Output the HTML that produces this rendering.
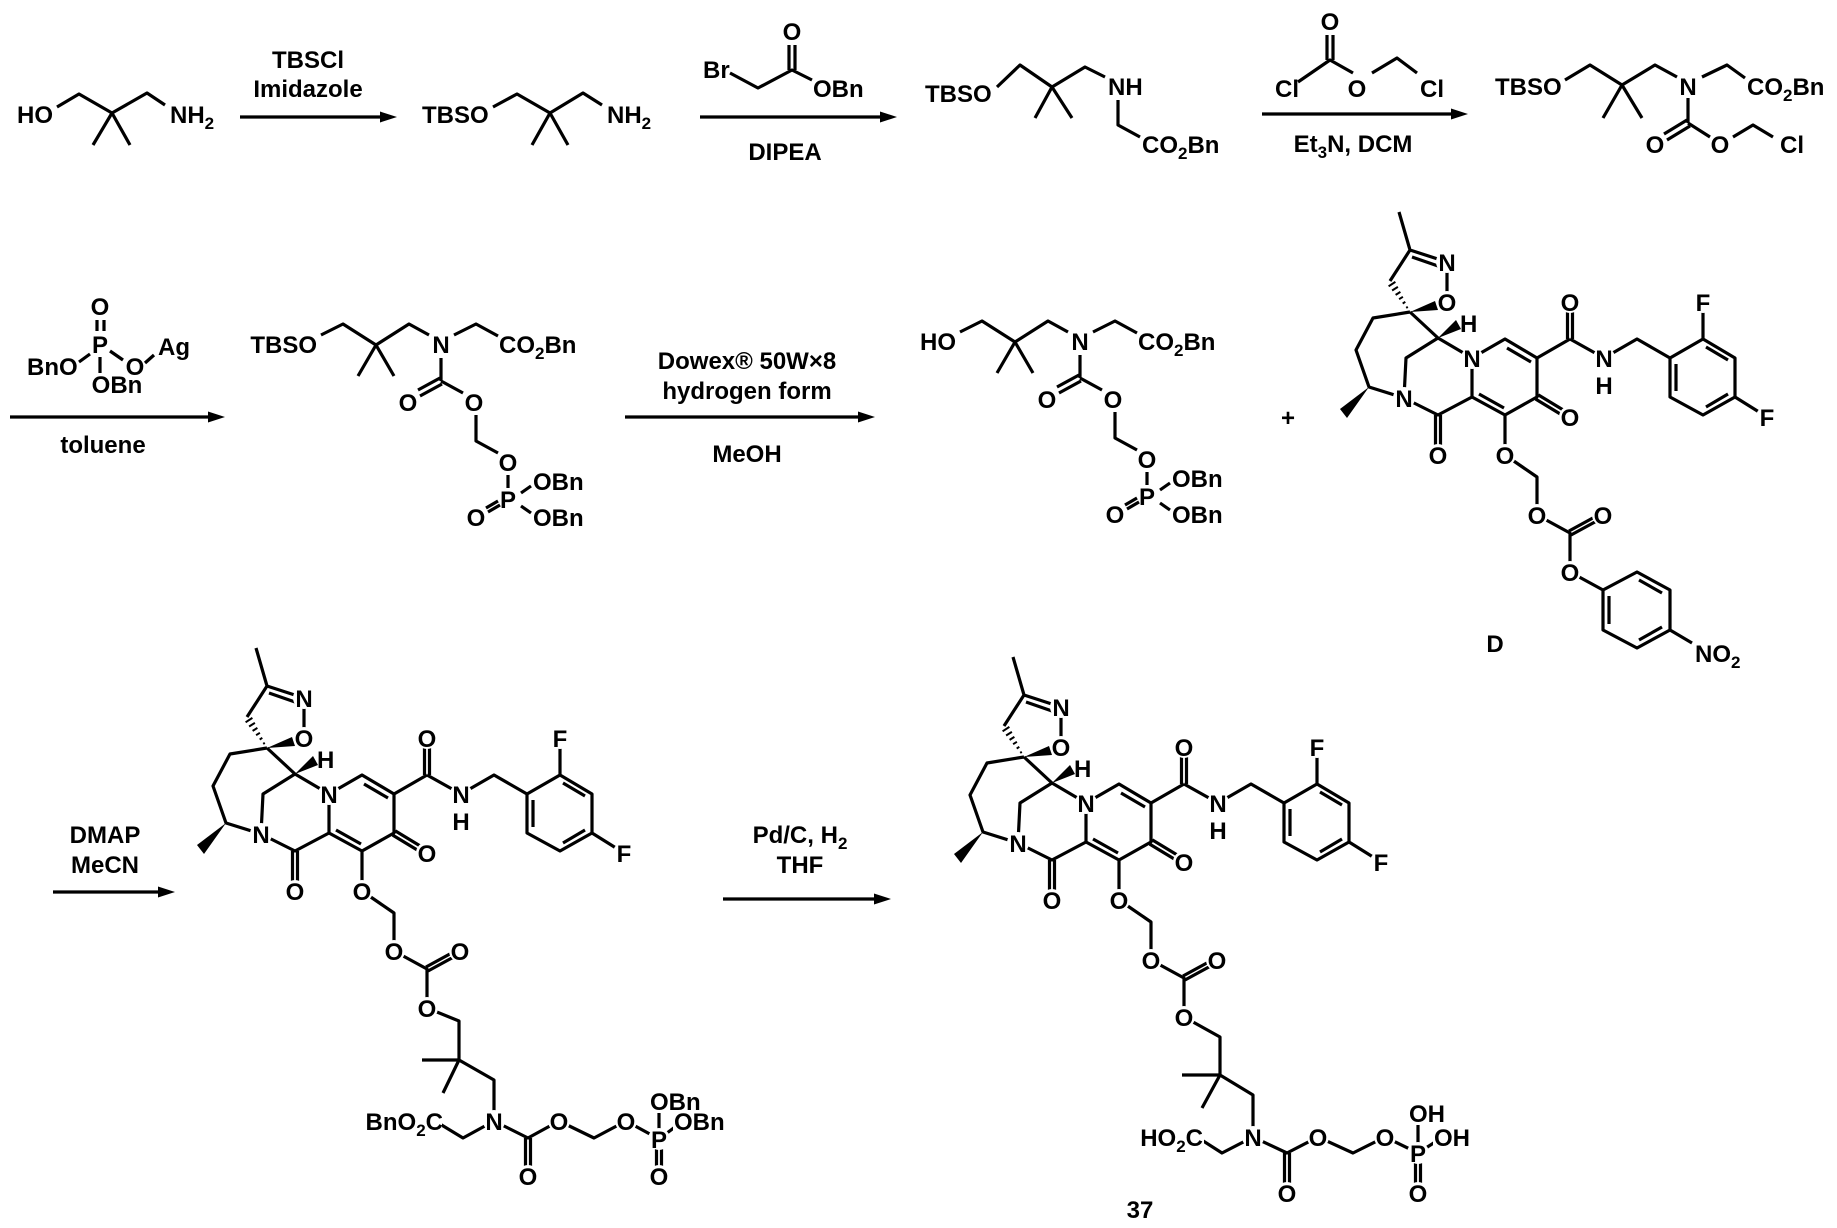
<!DOCTYPE html>
<html><head><meta charset="utf-8"><style>
html,body{margin:0;padding:0;background:#fff}
svg{display:block}
text{font-family:"Liberation Sans",Arial,sans-serif;font-weight:bold;font-size:24px;fill:#000}
.c{text-anchor:middle}
.w{fill:#fff;stroke:none}
.b{fill:none;stroke:#000;stroke-width:3.2;stroke-linejoin:round;stroke-linecap:butt}
.hs{stroke:#000;stroke-width:2}
</style></head><body>
<svg width="1837" height="1228" viewBox="0 0 1837 1228" xmlns="http://www.w3.org/2000/svg">

<!-- ROW 1 -->
<text x="17" y="123">HO</text>
<path class="b" d="M57 107 L79 94 L112 113 L147 93 L165 105 M112 113 L93 145 M112 113 L130 145"/>
<text x="170" y="123">NH<tspan font-size="17" dy="6">2</tspan></text>
<path class="b" d="M240 117 L385 117"/><polygon points="397,117 380,111.5 380,122.5"/>
<text class="c" x="308" y="68">TBSCl</text>
<text class="c" x="308" y="97">Imidazole</text>

<text x="422" y="123">TBSO</text>
<path class="b" d="M493 107 L517 94 L550 113 L583 93 L602 105 M550 113 L532 145 M550 113 L568 145"/>
<text x="607" y="123">NH<tspan font-size="17" dy="6">2</tspan></text>

<path class="b" d="M700 117 L885 117"/><polygon points="897,117 880,111.5 880,122.5"/>
<text x="703" y="78">Br</text>
<path class="b" d="M730 73 L758 88 L792 70 L812 80 M789 70 L789 45 M795 70 L795 45"/>
<text class="c" x="792" y="40">O</text>
<text x="813" y="97">OBn</text>
<text class="c" x="785" y="160">DIPEA</text>

<text x="925" y="102">TBSO</text>
<path class="b" d="M997 87 L1020 65 L1052 87 L1085 67 L1105 77 M1052 87 L1035 118 M1052 87 L1072 118 M1118 100 L1118 125 L1140 137"/>
<text x="1108" y="95">NH</text>
<text x="1142" y="153">CO<tspan font-size="17" dy="6">2</tspan><tspan dy="-6">Bn</tspan></text>

<path class="b" d="M1262 114 L1456 114"/><polygon points="1468,114 1451,108.5 1451,119.5"/>
<text x="1275" y="97">Cl</text>
<path class="b" d="M1298 82 L1330 60 L1353 73 M1327 60 L1327 35 M1333 60 L1333 35 M1372 73 L1397 58 L1417 73"/>
<text class="c" x="1330" y="30">O</text>
<text class="c" x="1357" y="97">O</text>
<text x="1420" y="97">Cl</text>
<text class="c" x="1353" y="152">Et<tspan font-size="17" dy="6">3</tspan><tspan dy="-6">N, DCM</tspan></text>

<text x="1495" y="95">TBSO</text>
<path class="b" d="M1565 80 L1590 65 L1622 85 L1655 65 L1677 77 M1622 85 L1603 118 M1622 85 L1642 118 M1702 77 L1727 65 L1745 78 M1688 98 L1688 123 M1687 120 L1664 134 M1690 126 L1667 140 M1688 123 L1710 137 M1733 137 L1753 125 L1773 137"/>
<text class="c" x="1688" y="95">N</text>
<text x="1747" y="95">CO<tspan font-size="17" dy="6">2</tspan><tspan dy="-6">Bn</tspan></text>
<text class="c" x="1655" y="153">O</text>
<text class="c" x="1720" y="153">O</text>
<text x="1780" y="153">Cl</text>

<!-- ROW 2 -->
<path class="b" d="M10 417 L213 417"/><polygon points="225,417 208,411.5 208,422.5"/>
<text class="c" x="100" y="315">O</text>
<path class="b" d="M97 320 L97 331 M104 320 L104 331 M79 362 L90 354 M110 351 L123 360 M145 363 L154 355 M100 357 L100 373"/>
<text class="c" x="100" y="353">P</text>
<text x="27" y="375">BnO</text>
<text class="c" x="135" y="375">O</text>
<text x="158" y="355">Ag</text>
<text class="c" x="117" y="393">OBn</text>
<text class="c" x="103" y="453">toluene</text>

<g transform="translate(-639,3)">
<text x="956" y="350" text-anchor="end">TBSO</text>
<path class="b" d="M960 332 L982 321 L1015 342 L1048 321 L1068 332 M1015 342 L997 373 M1015 342 L1033 373 M1093 332 L1115 321 L1137 333 M1080 355 L1080 378 M1079 375 L1057 387 M1081 381 L1059 393 M1080 378 L1102 390 M1115 412 L1115 438 L1137 450 M1147 472 L1147 485 M1160 490 L1170 483 M1160 503 L1170 510 M1125 505 L1137 498 M1127 509 L1139 502"/>
<text class="c" x="1080" y="350">N</text>
<text x="1138" y="350">CO<tspan font-size="17" dy="6">2</tspan><tspan dy="-6">Bn</tspan></text>
<text class="c" x="1047" y="408">O</text><text class="c" x="1113" y="408">O</text>
<text class="c" x="1147" y="468">O</text><text class="c" x="1147" y="505">P</text>
<text x="1172" y="487">OBn</text><text x="1172" y="523">OBn</text>
<text class="c" x="1115" y="523">O</text>
</g>

<path class="b" d="M625 417 L863 417"/><polygon points="875,417 858,411.5 858,422.5"/>
<text class="c" x="747" y="369">Dowex® 50W×8</text>
<text class="c" x="747" y="399">hydrogen form</text>
<text class="c" x="747" y="462">MeOH</text>

<text x="920" y="350">HO</text>
<path class="b" d="M960 332 L982 321 L1015 342 L1048 321 L1068 332 M1015 342 L997 373 M1015 342 L1033 373 M1093 332 L1115 321 L1137 333 M1080 355 L1080 378 M1079 375 L1057 387 M1081 381 L1059 393 M1080 378 L1102 390 M1115 412 L1115 438 L1137 450 M1147 472 L1147 485 M1160 490 L1170 483 M1160 503 L1170 510 M1125 505 L1137 498 M1127 509 L1139 502"/>
<text class="c" x="1080" y="350">N</text>
<text x="1138" y="350">CO<tspan font-size="17" dy="6">2</tspan><tspan dy="-6">Bn</tspan></text>
<text class="c" x="1047" y="408">O</text><text class="c" x="1113" y="408">O</text>
<text class="c" x="1147" y="468">O</text><text class="c" x="1147" y="505">P</text>
<text x="1172" y="487">OBn</text><text x="1172" y="523">OBn</text>
<text class="c" x="1115" y="523">O</text>

<text class="c" x="1288" y="426" font-size="26">+</text>

<!-- D -->
<g transform="translate(1410,312)">
<path class="b" d="M-11 -100 L0 -62 L37 -50 M2 -55 L28 -46 M37 -50 L37 -10 M0 -62 L-20 -31 M0 0 L-37 6 L-54 38 L-41 75 L-6 86 M-6 86 L-4 46 L28 26 L0 0 M28 26 L62 46 L95 27 L127 46 L127 85 L95 103 L62 85 L62 46 M97 36 L121 50 M94 96 L69 82 M125.7 87.1 L158.7 107.1 M128.3 82.9 L161.3 102.9 M62 85 L28 103 L-6 86 M25.5 103 L25.5 143 M30.5 103 L30.5 143 M127 46 L160 27 M157.5 27 L157.5 -10 M162.5 27 L162.5 -10 M160 27 L194 46 L227 27 L260 46 M260 46 L293 27 L325 46 L325 85 L293 103 L260 85 Z M266 52 L266 79 M296 35 L318 48 M318 82 L296 95 M293 27 L293 -10 M325 85 L357 105 M95 103 L95 143 L127 165 L127 203 L160 221 L160 260 M161 223 L194 205 M159 219 L192 201"/>
<path class="b" d="M160 260 L193 278 M193 278 L227 260 L260 278 L260 318 L227 336 L193 318 Z M199 284 L199 312 M229 268 L252 281 M252 315 L229 328 M260 318 L282 331"/>
<polygon points="0,0 25,-11 28,-2"/>
<polygon points="28,26 46,8 51,17"/>
<polygon points="-41,75 -63,106 -70,97"/>
<path class="hs" d="M-2.2 -5.1 L-3.8 -4.1 M-4.7 -10.2 L-7.3 -8.4 M-7.1 -15.2 L-10.9 -12.8 M-9.6 -20.1 L-14.4 -17.1 M-12.1 -25.1 L-17.9 -21.5 M-14.6 -30.1 L-21.4 -25.7"/>
<g class="w">
<circle cx="37" cy="-50" r="11"/><circle cx="37" cy="-10" r="11"/><circle cx="62" cy="46" r="11"/><circle cx="-6" cy="86" r="11"/><circle cx="160" cy="105" r="11"/><circle cx="28" cy="143" r="11"/><circle cx="160" cy="-10" r="11"/><circle cx="194" cy="46" r="11"/><circle cx="194" cy="73" r="11"/><circle cx="293" cy="-10" r="11"/><circle cx="357" cy="105" r="11"/><circle cx="95" cy="143" r="11"/><circle cx="127" cy="203" r="11"/><circle cx="193" cy="203" r="11"/><circle cx="160" cy="260" r="11"/><rect x="283" y="330" width="38" height="26"/>
</g>
<text class="c" x="37" y="-41">N</text><text class="c" x="37" y="-1">O</text>
<text x="50" y="20">H</text>
<text class="c" x="62" y="55">N</text><text class="c" x="-6" y="95">N</text>
<text class="c" x="160" y="114">O</text><text class="c" x="28" y="152">O</text>
<text class="c" x="160" y="-1">O</text><text class="c" x="194" y="55">N</text>
<text class="c" x="194" y="82">H</text>
<text class="c" x="293" y="-1">F</text><text class="c" x="357" y="114">F</text>
<text class="c" x="95" y="152">O</text><text class="c" x="127" y="212">O</text>
<text class="c" x="193" y="212">O</text><text class="c" x="160" y="269">O</text>
<text x="285" y="350">NO<tspan font-size="17" dy="6">2</tspan></text>
</g>
<text class="c" x="1495" y="652" font-size="26">D</text>

<!-- ROW 3 -->
<path class="b" d="M53 892 L163 892"/><polygon points="175,892 158,886.5 158,897.5"/>
<text class="c" x="105" y="843">DMAP</text>
<text class="c" x="105" y="873">MeCN</text>

<g transform="translate(267,748)">
<path class="b" d="M-11 -100 L0 -62 L37 -50 M2 -55 L28 -46 M37 -50 L37 -10 M0 -62 L-20 -31 M0 0 L-37 6 L-54 38 L-41 75 L-6 86 M-6 86 L-4 46 L28 26 L0 0 M28 26 L62 46 L95 27 L127 46 L127 85 L95 103 L62 85 L62 46 M97 36 L121 50 M94 96 L69 82 M125.7 87.1 L158.7 107.1 M128.3 82.9 L161.3 102.9 M62 85 L28 103 L-6 86 M25.5 103 L25.5 143 M30.5 103 L30.5 143 M127 46 L160 27 M157.5 27 L157.5 -10 M162.5 27 L162.5 -10 M160 27 L194 46 L227 27 L260 46 M260 46 L293 27 L325 46 L325 85 L293 103 L260 85 Z M266 52 L266 79 M296 35 L318 48 M318 82 L296 95 M293 27 L293 -10 M325 85 L357 105 M95 103 L95 143 L127 165 L127 203 L160 221 L160 260 M161 223 L194 205 M159 219 L192 201"/>
<polygon points="0,0 25,-11 28,-2"/>
<polygon points="28,26 46,8 51,17"/>
<polygon points="-41,75 -63,106 -70,97"/>
<path class="hs" d="M-2.2 -5.1 L-3.8 -4.1 M-4.7 -10.2 L-7.3 -8.4 M-7.1 -15.2 L-10.9 -12.8 M-9.6 -20.1 L-14.4 -17.1 M-12.1 -25.1 L-17.9 -21.5 M-14.6 -30.1 L-21.4 -25.7"/>
<g class="w">
<circle cx="37" cy="-50" r="11"/><circle cx="37" cy="-10" r="11"/><circle cx="62" cy="46" r="11"/><circle cx="-6" cy="86" r="11"/><circle cx="160" cy="105" r="11"/><circle cx="28" cy="143" r="11"/><circle cx="160" cy="-10" r="11"/><circle cx="194" cy="46" r="11"/><circle cx="194" cy="73" r="11"/><circle cx="293" cy="-10" r="11"/><circle cx="357" cy="105" r="11"/><circle cx="95" cy="143" r="11"/><circle cx="127" cy="203" r="11"/><circle cx="193" cy="203" r="11"/>
</g>
<text class="c" x="37" y="-41">N</text><text class="c" x="37" y="-1">O</text>
<text x="50" y="20">H</text>
<text class="c" x="62" y="55">N</text><text class="c" x="-6" y="95">N</text>
<text class="c" x="160" y="114">O</text><text class="c" x="28" y="152">O</text>
<text class="c" x="160" y="-1">O</text><text class="c" x="194" y="55">N</text>
<text class="c" x="194" y="82">H</text>
<text class="c" x="293" y="-1">F</text><text class="c" x="357" y="114">F</text>
<text class="c" x="95" y="152">O</text><text class="c" x="127" y="212">O</text>
<text class="c" x="193" y="212">O</text>
</g>
<path class="b" d="M427 1008 L459 1021 L459 1060 L494 1080 L494 1121 M459 1060 L422 1060 M459 1060 L443 1093 M494 1121 L463 1138 L435 1121 M494 1121 L528 1138 L559 1121 L594 1138 L626 1121 L659 1139 L683 1121 M525.5 1138 L525.5 1176 M530.5 1138 L530.5 1176 M659 1139 L659 1101 M656.5 1139 L656.5 1176 M661.5 1139 L661.5 1176"/>
<g class="w">
<circle cx="427" cy="1008" r="11"/><circle cx="494" cy="1121" r="11"/><rect x="366" y="1108" width="76" height="30"/><circle cx="528" cy="1176" r="11"/><circle cx="559" cy="1121" r="11"/><circle cx="626" cy="1121" r="11"/><circle cx="659" cy="1139" r="11"/><rect x="649" y="1089" width="56" height="24"/><rect x="673" y="1109" width="58" height="24"/><circle cx="659" cy="1176" r="11"/>
</g>
<text class="c" x="427" y="1017">O</text>
<text class="c" x="494" y="1130">N</text>
<text x="443" y="1130" text-anchor="end">BnO<tspan font-size="17" dy="6">2</tspan><tspan dy="-6">C</tspan></text>
<text class="c" x="528" y="1185">O</text>
<text class="c" x="559" y="1130">O</text>
<text class="c" x="626" y="1130">O</text>
<text class="c" x="659" y="1148">P</text>
<text x="650" y="1110">OBn</text>
<text x="674" y="1130">OBn</text>
<text class="c" x="659" y="1185">O</text>

<path class="b" d="M723 899 L879 899"/><polygon points="891,899 874,893.5 874,904.5"/>
<text class="c" x="800" y="843">Pd/C, H<tspan font-size="17" dy="6">2</tspan></text>
<text class="c" x="800" y="873">THF</text>

<g transform="translate(1024,757)">
<path class="b" d="M-11 -100 L0 -62 L37 -50 M2 -55 L28 -46 M37 -50 L37 -10 M0 -62 L-20 -31 M0 0 L-37 6 L-54 38 L-41 75 L-6 86 M-6 86 L-4 46 L28 26 L0 0 M28 26 L62 46 L95 27 L127 46 L127 85 L95 103 L62 85 L62 46 M97 36 L121 50 M94 96 L69 82 M125.7 87.1 L158.7 107.1 M128.3 82.9 L161.3 102.9 M62 85 L28 103 L-6 86 M25.5 103 L25.5 143 M30.5 103 L30.5 143 M127 46 L160 27 M157.5 27 L157.5 -10 M162.5 27 L162.5 -10 M160 27 L194 46 L227 27 L260 46 M260 46 L293 27 L325 46 L325 85 L293 103 L260 85 Z M266 52 L266 79 M296 35 L318 48 M318 82 L296 95 M293 27 L293 -10 M325 85 L357 105 M95 103 L95 143 L127 165 L127 203 L160 221 L160 260 M161 223 L194 205 M159 219 L192 201"/>
<polygon points="0,0 25,-11 28,-2"/>
<polygon points="28,26 46,8 51,17"/>
<polygon points="-41,75 -63,106 -70,97"/>
<path class="hs" d="M-2.2 -5.1 L-3.8 -4.1 M-4.7 -10.2 L-7.3 -8.4 M-7.1 -15.2 L-10.9 -12.8 M-9.6 -20.1 L-14.4 -17.1 M-12.1 -25.1 L-17.9 -21.5 M-14.6 -30.1 L-21.4 -25.7"/>
<g class="w">
<circle cx="37" cy="-50" r="11"/><circle cx="37" cy="-10" r="11"/><circle cx="62" cy="46" r="11"/><circle cx="-6" cy="86" r="11"/><circle cx="160" cy="105" r="11"/><circle cx="28" cy="143" r="11"/><circle cx="160" cy="-10" r="11"/><circle cx="194" cy="46" r="11"/><circle cx="194" cy="73" r="11"/><circle cx="293" cy="-10" r="11"/><circle cx="357" cy="105" r="11"/><circle cx="95" cy="143" r="11"/><circle cx="127" cy="203" r="11"/><circle cx="193" cy="203" r="11"/>
</g>
<text class="c" x="37" y="-41">N</text><text class="c" x="37" y="-1">O</text>
<text x="50" y="20">H</text>
<text class="c" x="62" y="55">N</text><text class="c" x="-6" y="95">N</text>
<text class="c" x="160" y="114">O</text><text class="c" x="28" y="152">O</text>
<text class="c" x="160" y="-1">O</text><text class="c" x="194" y="55">N</text>
<text class="c" x="194" y="82">H</text>
<text class="c" x="293" y="-1">F</text><text class="c" x="357" y="114">F</text>
<text class="c" x="95" y="152">O</text><text class="c" x="127" y="212">O</text>
<text class="c" x="193" y="212">O</text>
</g>
<path class="b" d="M1184 1017 L1220 1037 L1220 1075 L1253 1095 L1253 1137 M1220 1075 L1182 1075 M1220 1075 L1202 1108 M1253 1137 L1222 1153 L1197 1137 M1253 1137 L1287 1153 L1318 1137 L1353 1153 L1385 1137 L1418 1153 L1443 1137 M1284.5 1153 L1284.5 1193 M1289.5 1153 L1289.5 1193 M1418 1153 L1418 1113 M1415.5 1153 L1415.5 1193 M1420.5 1153 L1420.5 1193"/>
<g class="w">
<circle cx="1184" cy="1017" r="11"/><circle cx="1253" cy="1137" r="11"/><rect x="1130" y="1124" width="74" height="30"/><circle cx="1287" cy="1193" r="11"/><circle cx="1318" cy="1137" r="11"/><circle cx="1385" cy="1137" r="11"/><circle cx="1418" cy="1153" r="11"/><rect x="1408" y="1101" width="38" height="24"/><rect x="1433" y="1125" width="38" height="24"/><circle cx="1418" cy="1193" r="11"/>
</g>
<text class="c" x="1184" y="1026">O</text>
<text class="c" x="1253" y="1146">N</text>
<text x="1203" y="1146" text-anchor="end">HO<tspan font-size="17" dy="6">2</tspan><tspan dy="-6">C</tspan></text>
<text class="c" x="1287" y="1202">O</text>
<text class="c" x="1318" y="1146">O</text>
<text class="c" x="1385" y="1146">O</text>
<text class="c" x="1418" y="1162">P</text>
<text x="1409" y="1122">OH</text>
<text x="1434" y="1146">OH</text>
<text class="c" x="1418" y="1202">O</text>
<text class="c" x="1140" y="1218" font-size="26">37</text>
</svg>
</body></html>
